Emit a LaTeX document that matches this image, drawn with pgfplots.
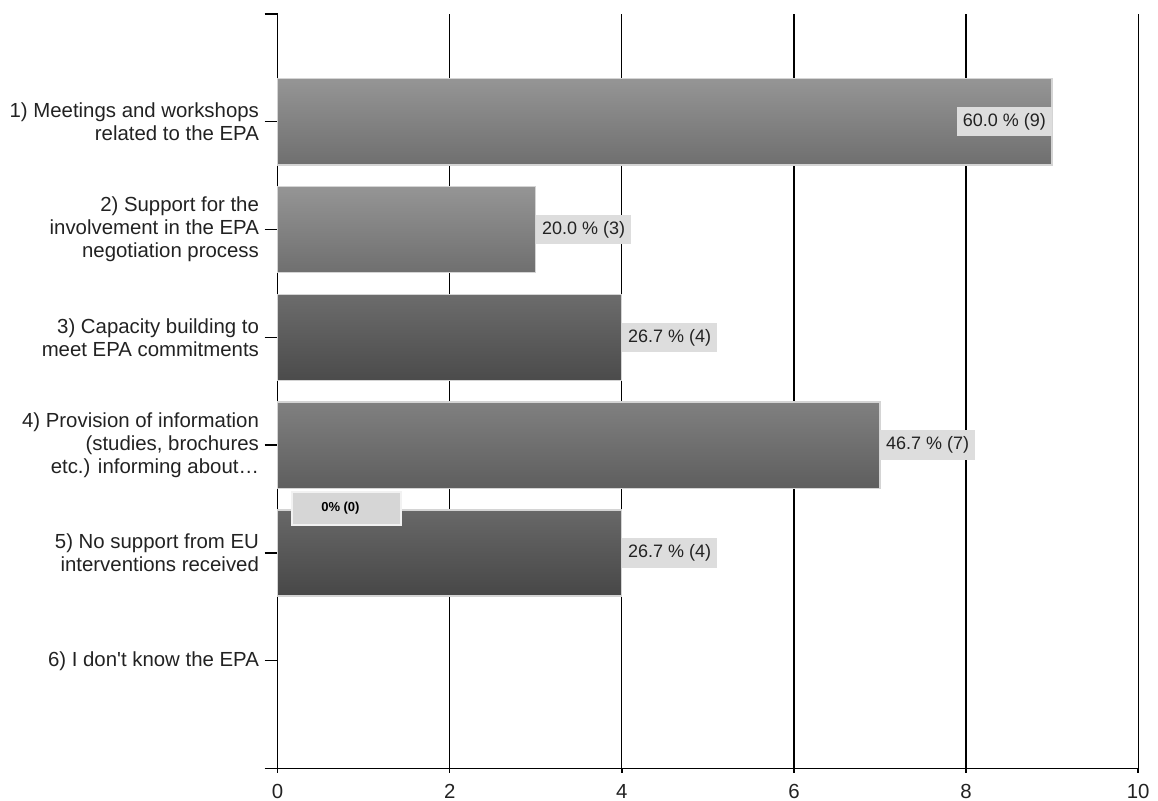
\documentclass[border=0pt]{standalone}
\usepackage{fontspec}
\setmainfont{Liberation Sans}
\usepackage{pgfplots}
\pgfplotsset{compat=1.18}

% bar gradients (top / bottom)
\definecolor{barAtop}{HTML}{959595}
\definecolor{barAbot}{HTML}{6F6F6F}
\definecolor{barBtop}{HTML}{6C6C6C}
\definecolor{barBbot}{HTML}{4B4B4B}
\definecolor{barCtop}{HTML}{808080}
\definecolor{barCbot}{HTML}{5E5E5E}
\definecolor{barDtop}{HTML}{686868}
\definecolor{barDbot}{HTML}{474747}
\definecolor{barline}{HTML}{D4D4D4}
\definecolor{lblfill}{HTML}{DDDDDD}
\definecolor{zerofill}{HTML}{D6D6D6}
\definecolor{zeroline}{HTML}{F2F2F2}
\definecolor{txt}{HTML}{222222}

% bars above the grid, axis lines above the bars
\pgfplotsset{
  layers/bars under axis/.define layer set={
    axis background,axis grid,main,axis ticks,axis lines,
    axis tick labels,axis descriptions,axis foreground}{},
}

\begin{document}
\begin{tikzpicture}
\begin{axis}[
  set layers=bars under axis,
  scale only axis,
  width=645.75bp, height=566.25bp,
  xmin=0, xmax=10, ymin=0, ymax=7,
  axis x line*=bottom, axis y line*=left,
  xtick={0,2,...,10},
  ytick={0,...,7},
  yticklabels={,
    {6) I don\textquotesingle t know the EPA},
    {5) No support from EU\\interventions received},
    {4) Provision of information\\(studies, brochures\\etc.) informing about…},
    {3) Capacity building to\\meet EPA commitments},
    {2) Support for the\\involvement in the EPA\\negotiation process},
    {1) Meetings and workshops\\related to the EPA},
    },
  tick align=outside,
  major tick length=9.75bp,
  xtick style={/pgfplots/major tick length=3bp},
  xmajorgrids,
  grid style={black, line width=0.9bp},
  axis line style={black, line width=1.1bp},
  tick style={black, line width=1.1bp},
  ticklabel style={font=\fontsize{15.3bp}{17.25bp}\selectfont, text=txt},
  yticklabel style={align=right, xshift=-0.75bp},
  xticklabel style={yshift=1.5bp},
  /pgf/number format/assume math mode=true,
  xbar, bar width=0.8, bar shift=0,
  clip=false,
]
% bars
\addplot[top color=barAtop, bottom color=barAbot, draw=barline, line width=1bp] coordinates {(9,6)};
\addplot[top color=barAtop, bottom color=barAbot, draw=barline, line width=1bp] coordinates {(3,5)};
\addplot[top color=barBtop, bottom color=barBbot, draw=barline, line width=1bp] coordinates {(4,4)};
\addplot[top color=barCtop, bottom color=barCbot, draw=barline, line width=1bp] coordinates {(7,3)};
\addplot[top color=barDtop, bottom color=barDbot, draw=barline, line width=1bp] coordinates {(4,2)};

% value labels
\addplot[draw=none, fill=none, point meta=explicit symbolic,
  nodes near coords, nodes near coords align=horizontal,
  every node near coord/.append style={anchor=east, fill=lblfill, text=txt,
    font=\fontsize{13.5bp}{16bp}\selectfont, inner xsep=4.5bp, inner ysep=0pt,
    minimum height=22bp}]
  coordinates {(9,6) [60.0 \% (9)]};
\addplot[draw=none, fill=none, point meta=explicit symbolic,
  nodes near coords, nodes near coords align=horizontal,
  every node near coord/.append style={anchor=west, fill=lblfill, text=txt,
    font=\fontsize{13.5bp}{16bp}\selectfont, inner xsep=4.5bp, inner ysep=0pt,
    minimum height=22bp}]
  coordinates {(3,5) [20.0 \% (3)] (4,4) [26.7 \% (4)] (7,3) [46.7 \% (7)] (4,2) [26.7 \% (4)]};

% label of the empty category
\draw[fill=zerofill, draw=zeroline, line width=1.5bp]
  (axis cs:0.167,2.256) rectangle (axis cs:1.431,2.568);
\node[font=\bfseries\fontsize{9.75bp}{11bp}\selectfont, text=black]
  at (axis cs:0.73,2.42) {0\% (0)};

\coordinate (bbsw) at (axis cs:-3.226,-0.2967);
\coordinate (bbne) at (axis cs:10.231,7.1297);
\end{axis}
\pgfresetboundingbox
\path[use as bounding box] (bbsw) rectangle (bbne);
\end{tikzpicture}
\end{document}
